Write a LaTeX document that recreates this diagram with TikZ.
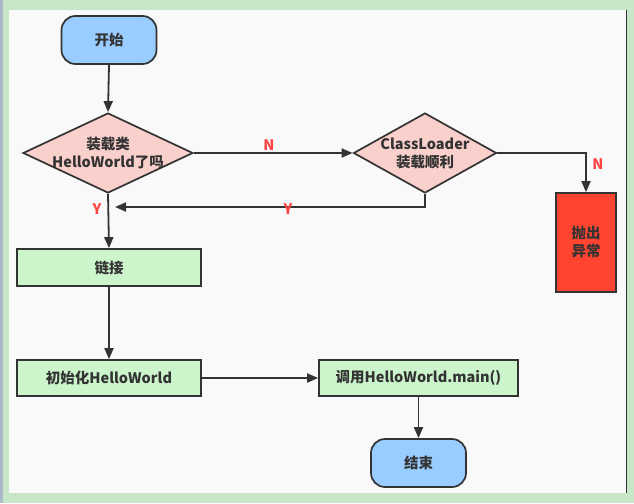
\documentclass[tikz,border=0pt]{standalone}
\usepackage{fontspec}
\setmainfont{Noto Sans CJK SC}
\usetikzlibrary{shapes.geometric,arrows.meta}
\definecolor{bggreen}{RGB}{200,230,200}
\definecolor{canvas}{RGB}{249,249,249}
\definecolor{edgegray}{RGB}{170,186,198}
\definecolor{termblue}{RGB}{153,204,255}
\definecolor{diapink}{RGB}{250,208,204}
\definecolor{boxgreen}{RGB}{204,245,204}
\definecolor{errred}{RGB}{255,69,48}
\definecolor{ink}{RGB}{51,51,51}
\definecolor{lblred}{RGB}{255,68,68}
\tikzset{
  base/.style={draw=ink, line width=1.7pt, text=ink, font=\fontsize{14.5}{18}\selectfont\bfseries, inner sep=0pt, align=center},
  term/.style={base, rectangle, rounded corners=14pt, fill=termblue, minimum width=95pt, minimum height=48pt},
  dia/.style={base, diamond, fill=diapink},
  proc/.style={base, rectangle, fill=boxgreen, minimum height=36pt},
  errbox/.style={base, rectangle, fill=errred, minimum width=60pt, minimum height=99pt},
  txt/.style={text=ink, font=\fontsize{14.5}{18}\selectfont\bfseries, align=center, inner sep=0pt},
  lbl/.style={text=lblred, font=\fontsize{14.5}{16}\selectfont\bfseries, inner sep=0pt},
  conn/.style={draw=ink, line width=1.8pt, -{Triangle[length=11pt,width=9pt]}},
  plain/.style={draw=ink, line width=1.8pt}
}
\begin{document}
\begin{tikzpicture}[x=1pt,y=-1pt]
\useasboundingbox (0,0) rectangle (634,503);
% screenshot frame
\fill[bggreen] (0,0) rectangle (634,503);
\fill[edgegray] (0,0) rectangle (3,503);
\fill[canvas] (9,10) rectangle (626,493);
\draw[ink, line width=1pt] (626.5,10) -- (626.5,493);

% nodes
\node[term] (start) at (109,40) {开始};
\node[dia, minimum width=170pt, minimum height=80pt] (d1) at (108,153) {};
\node[txt] (d1t) at (108,153) {装载类\\HelloWorld了吗};
\node[dia, minimum width=143pt, minimum height=80pt] (d2) at (425,153) {};
\node[txt] (d2t) at (425,153) {ClassLoader\\装载顺利};
\node[errbox] (err) at (586,242.5) {抛出\\异常};
\node[proc, minimum width=184pt, minimum height=37pt] (link) at (109,267.5) {链接};
\node[proc, minimum width=184pt] (init) at (109,378) {初始化HelloWorld};
\node[proc, minimum width=199pt] (call) at (418.5,378) {调用HelloWorld.main()};
\node[term] (end) at (418.5,463) {结束};
\coordinate (yin) at (115,207);

% connectors
\draw[conn] (start.south) -- (d1.north);
\draw[conn] (d1.east) -- (d2.west);
\draw[conn] (d2.east) -| (err.north);
\draw[conn] (d2.south) |- (yin);
\draw[conn] (d1.south) -- (link.north);
\draw[conn] (link.south) -- (init.north);
\draw[conn] (init.east) -- (call.west);
\draw[conn] (call.south) -- (end.north);

% labels
\node[lbl] (n1) at (269,145) {N};
\node[lbl] (n2) at (598,164) {N};
\node[lbl] (y1) at (97,209) {Y};
\node[lbl] (y2) at (288,209) {Y};
\end{tikzpicture}
\end{document}
